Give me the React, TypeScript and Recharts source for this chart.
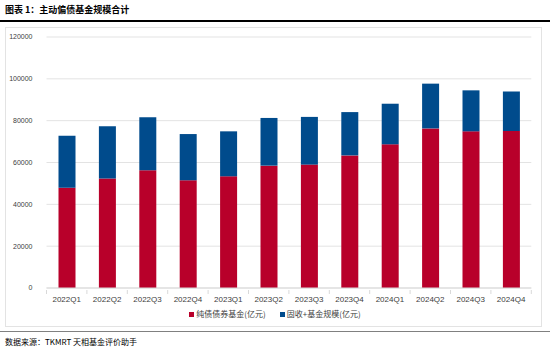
import React from 'react';
import { BarChart, Bar, XAxis, YAxis, CartesianGrid } from 'recharts';

const quarters = ['2022Q1', '2022Q2', '2022Q3', '2022Q4', '2023Q1', '2023Q2', '2023Q3', '2023Q4', '2024Q1', '2024Q2', '2024Q3', '2024Q4'];
// 纯债债券基金(亿元)
const pureBond = [47900, 52400, 56300, 51500, 53400, 58500, 59000, 63400, 68700, 76300, 74900, 75100];
// 固收+基金规模(亿元)
const fixedPlus = [24900, 24900, 25300, 22100, 21500, 22800, 22800, 20700, 19400, 21400, 19600, 18900];
const yTicks = [0, 20000, 40000, 60000, 80000, 100000, 120000];

const RED = '#B8002A';
const BLUE = '#004B8C';
const FONT = '"Liberation Sans", Arial, "Noto Sans CJK SC", sans-serif';
const CJK = '"Noto Sans CJK SC", sans-serif';

const data = quarters.map((q, i) => ({ name: q, pure: pureBond[i], plus: fixedPlus[i] }));

const W = 550;
const H = 349;
const PLOT_LEFT = 46.5;
const PLOT_RIGHT = 531.3;
const X_AXIS_H = 20;
const HALF_BAND = (PLOT_RIGHT - PLOT_LEFT) / quarters.length / 2;

const XTick = ({ x, y, payload, index }: any) => (
  <g>
    <line x1={x - HALF_BAND} x2={x - HALF_BAND} y1={y} y2={y + 4} stroke="#D9D9D9" />
    {index === quarters.length - 1 && (
      <line x1={x + HALF_BAND} x2={x + HALF_BAND} y1={y} y2={y + 4} stroke="#D9D9D9" />
    )}
    <text x={x} y={y + 12} textAnchor="middle" fontSize={8} fill="#404040" fontFamily={FONT}>
      {payload.value}
    </text>
  </g>
);

export default function App() {
  return (
    <div style={{ position: 'absolute', left: 0, top: 0, width: W, height: H, background: '#fff', overflow: 'hidden' }}>
      <div style={{ position: 'absolute', left: 5, top: 4, fontSize: 9, fontWeight: 'bold', fontFamily: CJK, color: '#000', lineHeight: '12px' }}>
        图表 1：主动偏债基金规模合计
      </div>
      <div style={{ position: 'absolute', left: 0, top: 20, width: W, height: 2, background: '#000' }} />
      <div style={{ position: 'absolute', left: 5, top: 27, width: 535, height: 298, border: '1px solid #E3E3E3' }} />
      <div style={{ position: 'absolute', left: 0, top: 0 }}>
        <BarChart
          width={W}
          height={H}
          data={data}
          margin={{ top: 37, right: W - PLOT_RIGHT, left: 0, bottom: H - 288 - X_AXIS_H }}
          barSize={17}
        >
          <CartesianGrid vertical={false} stroke="#E3E3E3" />
          <YAxis
            width={PLOT_LEFT}
            domain={[0, 120000]}
            ticks={yTicks}
            axisLine={false}
            tickLine={false}
            tickSize={0}
            tickMargin={14}
            tick={{ fontSize: 7, fill: '#404040', fontFamily: FONT }}
          />
          <XAxis
            dataKey="name"
            axisLine={{ stroke: '#D9D9D9' }}
            tickLine={false}
            tickSize={0}
            tick={<XTick />}
            interval={0}
            height={X_AXIS_H}
          />
          <Bar dataKey="pure" name="纯债债券基金(亿元)" stackId="a" fill={RED} isAnimationActive={false} />
          <Bar dataKey="plus" name="固收+基金规模(亿元)" stackId="a" fill={BLUE} isAnimationActive={false} />
        </BarChart>
      </div>
      <div style={{ position: 'absolute', left: 0, top: 309, width: W, display: 'flex', justifyContent: 'center', gap: 14, fontSize: 8, color: '#404040', fontFamily: CJK, lineHeight: '10px' }}>
        <span style={{ display: 'flex', alignItems: 'center' }}>
          <span style={{ width: 5, height: 5, background: RED, marginRight: 2 }} />纯债债券基金(亿元)
        </span>
        <span style={{ display: 'flex', alignItems: 'center' }}>
          <span style={{ width: 5, height: 5, background: BLUE, marginRight: 2 }} />固收+基金规模(亿元)
        </span>
      </div>
      <div style={{ position: 'absolute', left: 0, top: 331, width: W, height: 1, background: '#808080' }} />
      <div style={{ position: 'absolute', left: 5, top: 336, fontSize: 8, fontFamily: CJK, color: '#000', lineHeight: '11px' }}>
        数据来源：TKMRT 天相基金评价助手
      </div>
    </div>
  );
}
